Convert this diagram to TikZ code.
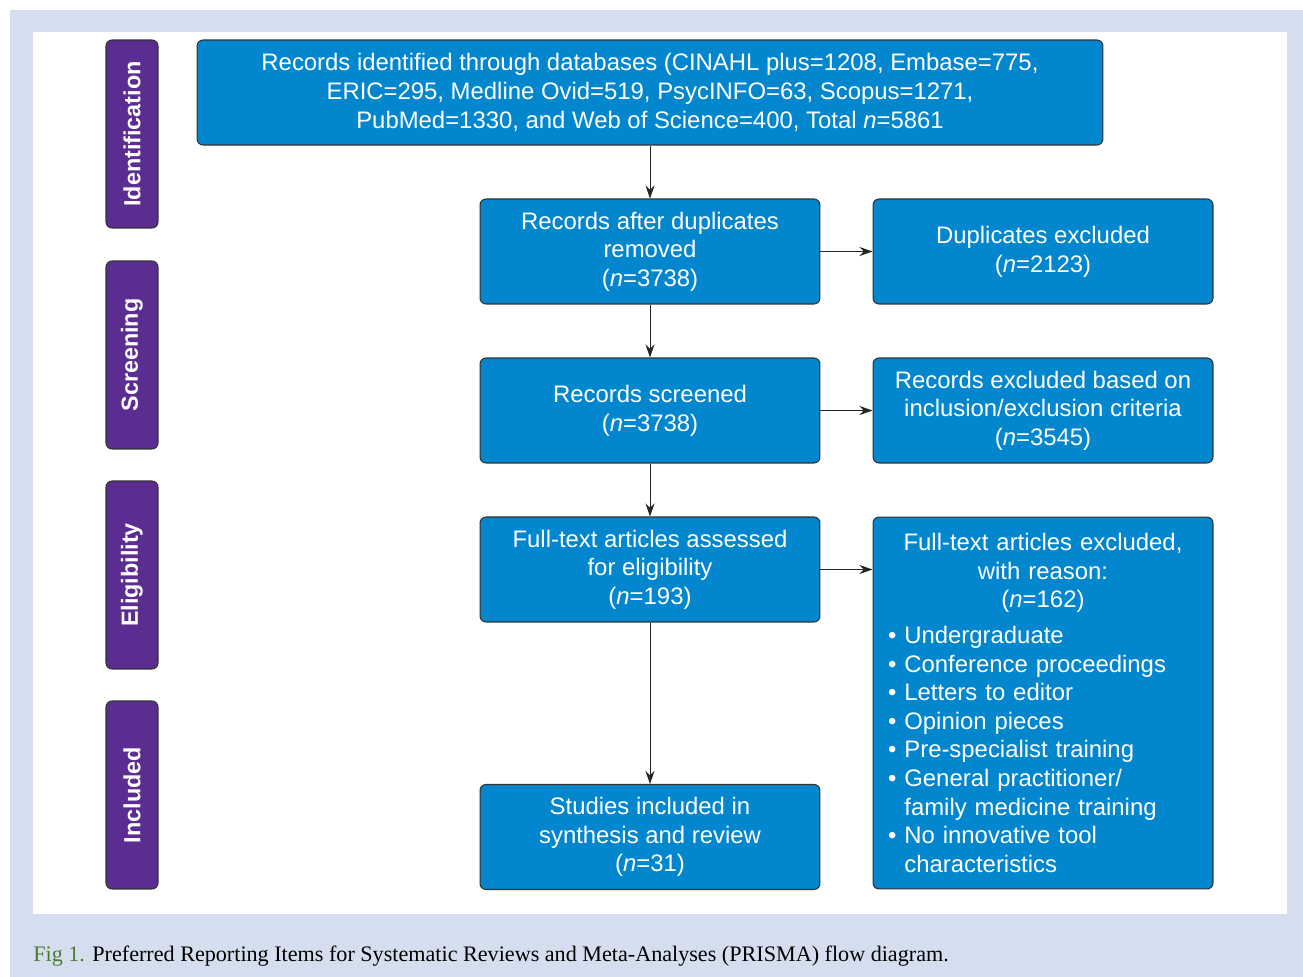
\documentclass[tikz,border=0pt]{standalone}
\usepackage{fontspec}
\setmainfont{Liberation Sans}
\newfontfamily\captionfont{Liberation Serif}
\usetikzlibrary{arrows.meta}
\definecolor{BoxBlue}{RGB}{2,134,206}
\definecolor{PhasePurple}{RGB}{92,45,145}
\definecolor{FrameGrey}{RGB}{213,222,239}
\definecolor{CaptionGreen}{RGB}{76,124,46}
\definecolor{EdgeGrey}{RGB}{50,50,50}

\begin{document}
\begin{tikzpicture}[
    x=0.02cm, y=-0.02cm,
    font=\fontsize{13.6}{16.3}\selectfont,
    phase/.style={draw=EdgeGrey, line width=0.6pt, rounded corners=3.4pt, fill=PhasePurple, text=white,
        font=\fontsize{13.3}{16}\selectfont\bfseries, rotate=90, minimum width=3.76cm, minimum height=1.04cm, inner sep=0pt},
    stage/.style={draw=EdgeGrey, line width=0.6pt, rounded corners=3.4pt, fill=BoxBlue, text=white,
        align=center, minimum width=6.8cm, minimum height=2.1cm, inner sep=0pt},
    link/.style={-{Stealth[length=2.6mm, width=1.8mm]}, line width=0.55pt, black!85},
]

% --- frame ---
\useasboundingbox (0,0) rectangle (1303,977);
\fill[FrameGrey] (10,10) rectangle (1303,977);
\fill[white] (33,32) rectangle (1287,914);

% --- phases ---
\node[phase] (ident) at (132,134) {Identification};
\node[phase] (screen) at (132,355) {Screening};
\node[phase] (elig) at (132,575) {Eligibility};
\node[phase] (incl) at (132,795) {Included};

% ================= IDENTIFICATION =================
\node[stage, minimum width=18.12cm] (records) at (650,92.5)
    {Records identified through databases (CINAHL plus=1208, Embase=775,\\
     ERIC=295, Medline Ovid=519, PsycINFO=63, Scopus=1271,\\
     PubMed=1330, and Web of Science=400, Total \textit{n}=5861};

% ================= SCREENING =================
\node[stage] (dedup) at (650,251.5) {Records after duplicates\\ removed\\ (\textit{n}=3738)};
\node[stage] (dupx) at (1043,251.5) {Duplicates excluded\\ (\textit{n}=2123)};
\node[stage] (scr) at (650,410.5) {Records screened\\ (\textit{n}=3738)};
\node[stage] (scrx) at (1043,410.5) {Records excluded based on\\ inclusion/exclusion criteria\\ (\textit{n}=3545)};

% ================= ELIGIBILITY =================
\node[stage] (full) at (650,569.5) {Full-text articles assessed\\ for eligibility\\ (\textit{n}=193)};
\node[stage, text width=6.2cm, minimum height=7.44cm] (fullx) at (1043,703)
    {Full-text articles excluded,\\ with reason:\\ (\textit{n}=162)\par\vspace{0.14cm}
     \raggedright
     \textbullet\ Undergraduate\\
     \textbullet\ Conference proceedings\\
     \textbullet\ Letters to editor\\
     \textbullet\ Opinion pieces\\
     \textbullet\ Pre-specialist training\\
     \textbullet\ General practitioner/\\
     \hphantom{\textbullet} family medicine training\\
     \textbullet\ No innovative tool\\
     \hphantom{\textbullet} characteristics\par};

% ================= INCLUDED =================
\node[stage] (incstudies) at (650,837) {Studies included in\\ synthesis and review\\ (\textit{n}=31)};

% --- connectors ---
\draw[link] (records) -- (dedup);
\draw[link] (dedup) -- (scr);
\draw[link] (scr) -- (full);
\draw[link] (full) -- (incstudies);
\draw[link] (dedup) -- (dupx);
\draw[link] (scr) -- (scrx);
\draw[link] (full.east) -- (full.east -| fullx.west);

% --- caption ---
\node[anchor=base west, inner sep=0pt, font=\captionfont\fontsize{12.6}{15}\selectfont] (caption) at (33,961)
    {\textcolor{CaptionGreen}{Fig 1.} Preferred Reporting Items for Systematic Reviews and Meta-Analyses (PRISMA) flow diagram.};

\end{tikzpicture}
\end{document}
